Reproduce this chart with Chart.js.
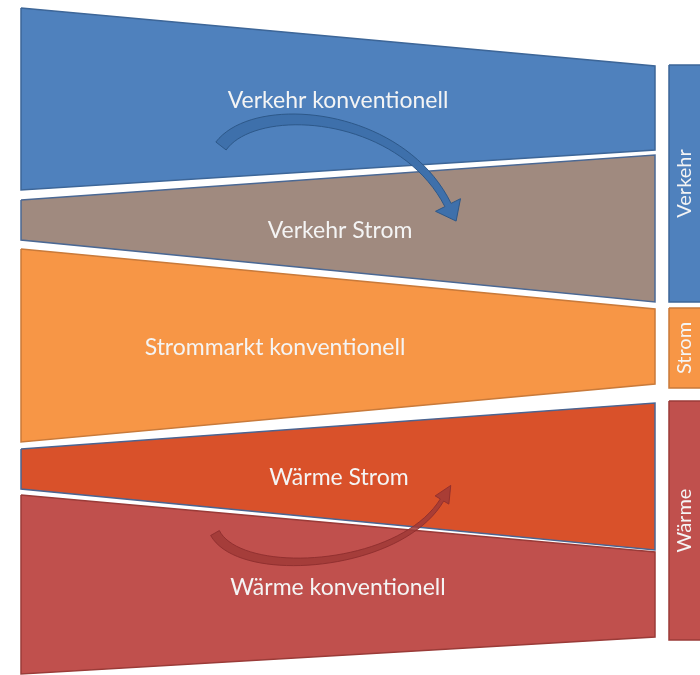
<!DOCTYPE html>
<html>
<head>
<meta charset="utf-8">
<script src="https://cdn.jsdelivr.net/npm/chart.js@4.4.0/dist/chart.umd.min.js"></script>
<style>
  html, body { margin: 0; padding: 0; background: #fff; }
  #wrap { width: 700px; height: 675px; position: relative; }
</style>
</head>
<body>
<div id="wrap"><canvas id="chart"></canvas></div>
<script>
// band names and corner heights (y, top of page = 0)
const bands = ['Verkehr konventionell', 'Verkehr Strom', 'Strommarkt konventionell', 'Wärme Strom', 'Wärme konventionell'];
const leftTop     = [8, 200, 249, 449, 495];
const leftBottom  = [190, 240, 442, 489, 674];
const rightTop    = [66, 155, 309, 403, 552];
const rightBottom = [150, 302, 384, 550, 637];

// sectors on the right side
const sectors = ['Verkehr', 'Strom', 'Wärme'];
const sectorTop    = [65, 308, 401];
const sectorBottom = [302, 388, 640];

// layout / styles
const bandLeft = 21, bandRight = 655;
const sectorLeft = 669, sectorRight = 704;
const bandFill   = ['#4f81bd', '#a08a7f', '#f79646', '#d9512a', '#c0504d'];
const bandBorder = ['#3d6698', '#4a6894', '#c97a3a', '#4b6491', '#9a3b38'];
const sectorFill   = ['#4f81bd', '#f79646', '#c0504d'];
const sectorBorder = ['#3d6698', '#c97a3a', '#9a3b38'];
const labelX = [338, 340, 275, 339, 338];
const labelShift = [-3, 6, 2, 5, -2];

function poly(x0, x1, yl0, yr0, yr1, yl1) {
  return [{x: x0, y: yl0}, {x: x1, y: yr0}, {x: x1, y: yr1}, {x: x0, y: yl1}, {x: x0, y: yl0}];
}

const datasets = [];
bands.forEach((b, i) => {
  datasets.push({
    label: b,
    data: poly(bandLeft, bandRight, leftTop[i], rightTop[i], rightBottom[i], leftBottom[i]),
    backgroundColor: bandFill[i], borderColor: bandBorder[i], borderWidth: 1.5
  });
});
sectors.forEach((s, i) => {
  datasets.push({
    label: s,
    data: poly(sectorLeft, sectorRight, sectorTop[i], sectorTop[i], sectorBottom[i], sectorBottom[i]),
    backgroundColor: sectorFill[i], borderColor: sectorBorder[i], borderWidth: 1.5
  });
});
datasets.forEach(d => {
  d.showLine = true; d.fill = 'shape'; d.pointRadius = 0; d.tension = 0; d.borderJoinStyle = 'miter';
});

// curved arrows: cubic bezier control points in chart units
const arrows = [
  {p: [[221, 146], [255, 100], [400, 110], [448, 205]], w0: 13, w1: 7, head: 18, headW: 28,
   fill: '#3e70ab', stroke: '#2d5889'},
  {p: [[215, 533], [240, 580], [400, 570], [442, 500]], w0: 10, w1: 4, head: 17, headW: 16,
   fill: 'rgba(160,58,55,0.85)', stroke: 'rgba(140,45,45,0.85)'}
];

function bez(p, t) {
  const u = 1 - t;
  const a = u*u*u, b = 3*u*u*t, c = 3*u*t*t, d = t*t*t;
  return [a*p[0][0] + b*p[1][0] + c*p[2][0] + d*p[3][0], a*p[0][1] + b*p[1][1] + c*p[2][1] + d*p[3][1]];
}

const decor = {
  id: 'decor',
  afterDatasetsDraw(chart) {
    const ctx = chart.ctx, sx = chart.scales.x, sy = chart.scales.y;
    const px = (pt) => [sx.getPixelForValue(pt[0]), sy.getPixelForValue(pt[1])];

    arrows.forEach(a => {
      const P = a.p.map(px);
      const n = 40, left = [], right = [];
      for (let k = 0; k <= n; k++) {
        const t = k / n;
        const q = bez(P, t);
        const q2 = bez(P, Math.min(1, t + 0.01)), q1 = bez(P, Math.max(0, t - 0.01));
        let dx = q2[0] - q1[0], dy = q2[1] - q1[1];
        const len = Math.hypot(dx, dy); dx /= len; dy /= len;
        const w = (a.w0 + (a.w1 - a.w0) * t) / 2;
        left.push([q[0] - dy * w, q[1] + dx * w]);
        right.push([q[0] + dy * w, q[1] - dx * w]);
      }
      const e = P[3], f = P[2];
      let dx = e[0] - f[0], dy = e[1] - f[1];
      const len = Math.hypot(dx, dy); dx /= len; dy /= len;
      const hw = a.headW / 2;
      ctx.save();
      ctx.beginPath();
      ctx.moveTo(left[0][0], left[0][1]);
      left.forEach(p => ctx.lineTo(p[0], p[1]));
      ctx.lineTo(e[0] - dy * hw, e[1] + dx * hw);
      ctx.lineTo(e[0] + dx * a.head, e[1] + dy * a.head);
      ctx.lineTo(e[0] + dy * hw, e[1] - dx * hw);
      for (let k = right.length - 1; k >= 0; k--) ctx.lineTo(right[k][0], right[k][1]);
      ctx.closePath();
      ctx.fillStyle = a.fill;
      ctx.fill();
      ctx.lineWidth = 1;
      ctx.strokeStyle = a.stroke;
      ctx.stroke();
      ctx.restore();
    });

    ctx.save();
    ctx.fillStyle = '#f4f4f4';
    ctx.textAlign = 'center';
    ctx.textBaseline = 'middle';
    ctx.font = '23px Lato';
    bands.forEach((b, i) => {
      const f = (labelX[i] - bandLeft) / (bandRight - bandLeft);
      const top = leftTop[i] + (rightTop[i] - leftTop[i]) * f;
      const bot = leftBottom[i] + (rightBottom[i] - leftBottom[i]) * f;
      ctx.fillText(b, sx.getPixelForValue(labelX[i]), sy.getPixelForValue((top + bot) / 2 + labelShift[i]));
    });
    ctx.font = '20px Lato';
    sectors.forEach((s, i) => {
      const cx = sx.getPixelForValue((sectorLeft + 700) / 2);
      const cy = sy.getPixelForValue((sectorTop[i] + sectorBottom[i]) / 2);
      ctx.save();
      ctx.translate(cx, cy);
      ctx.rotate(-Math.PI / 2);
      ctx.fillText(s, 0, 0);
      ctx.restore();
    });
    ctx.restore();
  }
};

new Chart(document.getElementById('chart'), {
  type: 'scatter',
  data: { datasets: datasets },
  options: {
    responsive: true,
    maintainAspectRatio: false,
    animation: false,
    layout: { padding: 0 },
    plugins: { legend: { display: false }, tooltip: { enabled: false } },
    scales: {
      x: { type: 'linear', min: 0, max: 700, display: false },
      y: { type: 'linear', min: 0, max: 675, reverse: true, display: false }
    }
  },
  plugins: [decor]
});
</script>
</body>
</html>
